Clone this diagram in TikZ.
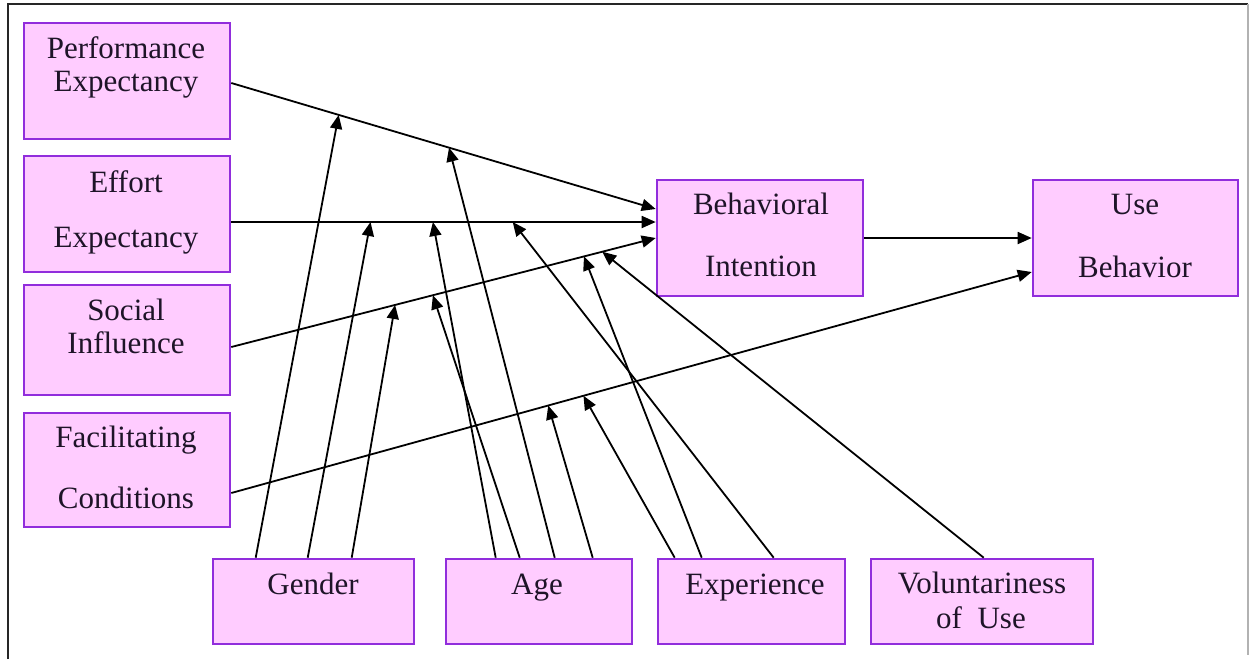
\documentclass[tikz,border=0pt]{standalone}
\usepackage{fontspec}
\setmainfont{Liberation Serif}
\usetikzlibrary{arrows.meta,calc}
\definecolor{boxfill}{RGB}{255,204,255}
\definecolor{boxline}{RGB}{145,45,220}
\definecolor{ink}{RGB}{30,20,40}
\begin{document}
\begin{tikzpicture}[x=0.5pt,y=-0.5pt,
  box/.style={draw=boxline, fill=boxfill, line width=1.3pt, inner sep=0pt},
  txt/.style={anchor=base, inner sep=0pt, text=ink, font=\fontsize{15.5}{18}\selectfont},
  arr/.style={-{Triangle[length=7pt,width=6pt]}, line width=0.9pt, draw=black}]
\useasboundingbox (0,0) rectangle (1253,659);
% frame
\draw[line width=1pt, black!85] (8,659) -- (8,4) -- (1248,4);
\draw[line width=0.8pt, black!30] (1248,4) -- (1248,655);

% construct boxes
\node[box, minimum width=103pt, minimum height=58pt] (pe) at (127,81) {};
\node[box, minimum width=103pt, minimum height=58pt] (ee) at (127,214) {};
\node[box, minimum width=103pt, minimum height=55pt] (si) at (127,340) {};
\node[box, minimum width=103pt, minimum height=57pt] (fc) at (127,470) {};
\node[box, minimum width=103pt, minimum height=58pt] (bi) at (760,238) {};
\node[box, minimum width=102.5pt, minimum height=58pt] (ub) at (1135.5,238) {};
\node[box, minimum width=100.5pt, minimum height=42.5pt] (gen) at (313.5,601.5) {};
\node[box, minimum width=93pt, minimum height=42.5pt] (age) at (539,601.5) {};
\node[box, minimum width=93.5pt, minimum height=42.5pt] (exp) at (751.5,601.5) {};
\node[box, minimum width=111pt, minimum height=42.5pt] (vol) at (982,601.5) {};

% labels
\node[txt] (pe1) at (126,58) {Performance};
\node[txt] (pe2) at (126,91) {Expectancy};
\node[txt] (ee1) at (126,192) {Effort};
\node[txt] (ee2) at (126,247) {Expectancy};
\node[txt] (si1) at (126,320) {Social};
\node[txt] (si2) at (126,353) {Influence};
\node[txt] (fc1) at (126,447) {Facilitating};
\node[txt] (fc2) at (126,508) {Conditions};
\node[txt] (bi1) at (761,214) {Behavioral};
\node[txt] (bi2) at (761,276) {Intention};
\node[txt] (ub1) at (1135,214) {Use};
\node[txt] (ub2) at (1135,277) {Behavior};
\node[txt] (gen1) at (313,594) {Gender};
\node[txt] (age1) at (537,594) {Age};
\node[txt] (exp1) at (755,594) {Experience};
\node[txt] (vol1) at (982,593) {Voluntariness};
\node[txt] (vol2) at (981,628) {of~~Use};

% main paths
\draw[arr] ($(pe.east)+(0,2)$) -- ($(bi.west)+(0,-29)$)
  coordinate[pos=0.253] (peG) coordinate[pos=0.513] (peA);
\draw[arr] ($(ee.east)+(0,8)$) -- ($(bi.west)+(0,-16)$)
  coordinate[pos=0.328] (eeG) coordinate[pos=0.475] (eeA) coordinate[pos=0.663] (eeE);
\draw[arr] ($(si.east)+(0,7)$) -- (bi.west)
  coordinate[pos=0.386] (siG) coordinate[pos=0.475] (siA)
  coordinate[pos=0.831] (siE) coordinate[pos=0.874] (siV);
\draw[arr] ($(fc.east)+(0,23)$) -- ($(ub.west)+(0,34)$)
  coordinate[pos=0.396] (fcA) coordinate[pos=0.440] (fcE);
\draw[arr] (bi.east) -- (ub.west);

% moderating effects
\draw[arr] ($(gen.north west)+(44,0)$) -- (peG);
\draw[arr] ($(gen.north west)+(96,0)$) -- (eeG);
\draw[arr] ($(gen.north west)+(140,0)$) -- (siG);
\draw[arr] ($(age.north west)+(51,0)$) -- (eeA);
\draw[arr] ($(age.north west)+(75,0)$) -- (siA);
\draw[arr] ($(age.north west)+(110,0)$) -- (peA);
\draw[arr] ($(age.north west)+(148,0)$) -- (fcA);
\draw[arr] ($(exp.north west)+(18,0)$) -- (fcE);
\draw[arr] ($(exp.north west)+(45,0)$) -- (siE);
\draw[arr] ($(exp.north west)+(117,0)$) -- (eeE);
\draw[arr] ($(vol.north west)+(114,0)$) -- (siV);
\end{tikzpicture}
\end{document}
